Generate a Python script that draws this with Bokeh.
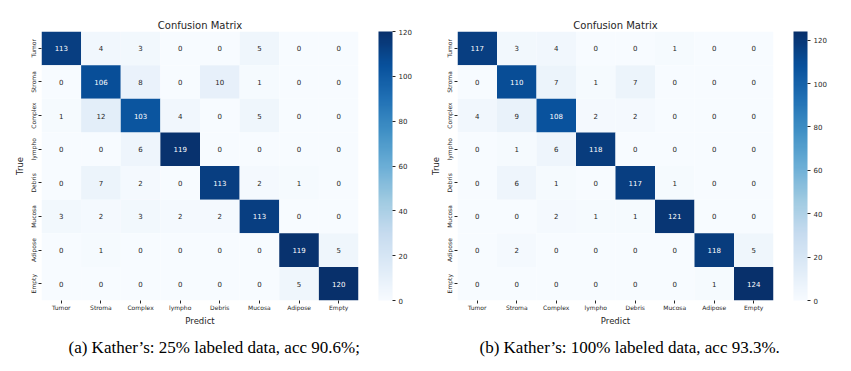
import numpy as np
from bokeh.plotting import figure
from bokeh.models import (LinearColorMapper, ColorBar, FixedTicker, FactorRange,
                          Title, ColumnDataSource)
from bokeh.layouts import row
from bokeh.palettes import Blues256
from bokeh.embed import file_html
from bokeh.resources import INLINE
from bokeh.core.properties import value

classes = ["Tumor", "Stroma", "Complex", "lympho", "Debris", "Mucosa", "Adipose", "Empty"]

cm_a = [[113, 4, 3, 0, 0, 5, 0, 0],
        [0, 106, 8, 0, 10, 1, 0, 0],
        [1, 12, 103, 4, 0, 5, 0, 0],
        [0, 0, 6, 119, 0, 0, 0, 0],
        [0, 7, 2, 0, 113, 2, 1, 0],
        [3, 2, 3, 2, 2, 113, 0, 0],
        [0, 1, 0, 0, 0, 0, 119, 5],
        [0, 0, 0, 0, 0, 0, 5, 120]]

cm_b = [[117, 3, 4, 0, 0, 1, 0, 0],
        [0, 110, 7, 1, 7, 0, 0, 0],
        [4, 9, 108, 2, 2, 0, 0, 0],
        [0, 1, 6, 118, 0, 0, 0, 0],
        [0, 6, 1, 0, 117, 1, 0, 0],
        [0, 0, 2, 1, 1, 121, 0, 0],
        [0, 2, 0, 0, 0, 0, 118, 5],
        [0, 0, 0, 0, 0, 0, 1, 124]]

captions = ["(a) Kather\u2019s: 25% labeled data, acc 90.6%;",
            "(b) Kather\u2019s: 100% labeled data, acc 93.3%."]
cbar_ticks = [0, 20, 40, 60, 80, 100, 120]

DARK = "#262626"
FONT = "DejaVu Sans"


def make_panel(cm, caption, left, right, fw, cap_offset):
    cm = np.array(cm)
    vmax = cm.max()
    mapper = LinearColorMapper(palette=list(reversed(Blues256)), low=0, high=vmax)
    xs, ys, vals, labels, tcs = [], [], [], [], []
    for i, t in enumerate(classes):
        for j, pr in enumerate(classes):
            v = int(cm[i, j])
            xs.append(pr); ys.append(t); vals.append(v); labels.append(str(v))
            tcs.append("white" if v > 0.5 * vmax else DARK)
    src = ColumnDataSource(dict(x=xs, y=ys, v=vals, label=labels, tc=tcs))

    p = figure(x_range=FactorRange(factors=classes),
               y_range=FactorRange(factors=list(reversed(classes))),
               frame_width=fw, frame_height=269,
               min_border_left=left, min_border_right=right,
               min_border_top=31, min_border_bottom=4,
               output_backend="svg", toolbar_location=None,
               title="Confusion Matrix")
    p.title.align = "center"
    p.title.text_font = FONT
    p.title.text_font_size = "10px"
    p.title.text_font_style = "normal"
    p.title.text_color = DARK
    p.title.standoff = 2

    p.rect(x="x", y="y", width=1, height=1, source=src,
           fill_color={"field": "v", "transform": mapper}, line_color=None)
    p.text(x="x", y="y", text="label", source=src, text_align="center",
           text_baseline="middle", text_font_size="7px", text_color="tc",
           text_font=value(FONT))

    p.outline_line_color = None
    p.grid.grid_line_color = None
    for ax in (p.xaxis[0], p.yaxis[0]):
        ax.axis_line_color = None
        ax.major_tick_out = 3
        ax.major_tick_in = 0
        ax.major_tick_line_color = DARK
        ax.major_label_text_font = FONT
        ax.major_label_text_font_size = "6px"
        ax.major_label_text_color = DARK
        ax.axis_label_text_font = FONT
        ax.axis_label_text_font_size = "8.5px"
        ax.axis_label_text_font_style = "normal"
        ax.axis_label_text_color = DARK
        ax.major_label_standoff = 2
        ax.axis_label_standoff = 2
    p.xaxis.major_label_standoff = 0
    p.xaxis.axis_label = "Predict"
    p.yaxis.axis_label = "True"
    p.yaxis.major_label_orientation = "vertical"

    cb = ColorBar(color_mapper=mapper, location=(fw + 20, 0), width=14, height=269,
                  ticker=FixedTicker(ticks=cbar_ticks), major_tick_out=3, major_tick_in=0,
                  major_tick_line_color=DARK, major_label_text_font=FONT,
                  major_label_text_font_size="7px", major_label_text_color=DARK,
                  label_standoff=3, bar_line_color=None, border_line_color=None,
                  background_fill_color=None, padding=0, margin=0)
    p.add_layout(cb, "center")

    cap = Title(text=caption, align="left", offset=cap_offset,
                text_font="Liberation Serif", text_font_size="17px",
                text_font_style="normal", text_color="black", standoff=14)
    p.add_layout(cap, "below")
    return p


p1 = make_panel(cm_a, captions[0], 41, 67, 317, 27)
p2 = make_panel(cm_b, captions[1], 32, 70, 316, 22)
layout = row(p1, p2)

open("out.html", "w").write(file_html(layout, INLINE))
